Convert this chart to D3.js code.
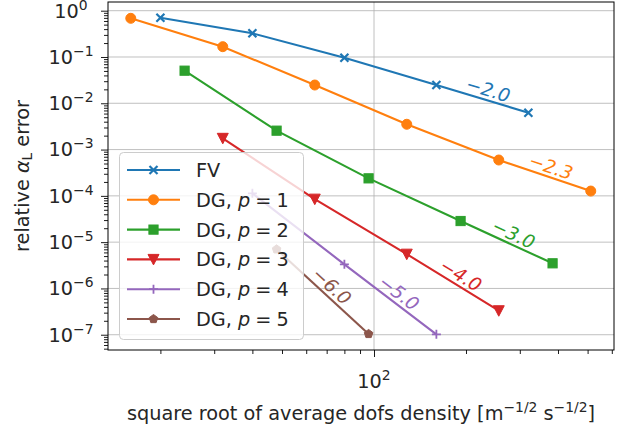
<!DOCTYPE html>
<html><head><meta charset="utf-8">
<script src="https://cdn.jsdelivr.net/npm/d3@7"></script>
<style>
body{margin:0;background:#fff}
svg{display:block}
text{font-family:"DejaVu Sans",sans-serif;fill:#262626}
</style>
</head><body>
<svg id="c" width="628" height="432"></svg>
<script>
// ---- data ----
const seriesLabels = ["FV", "DG, p = 1", "DG, p = 2", "DG, p = 3", "DG, p = 4", "DG, p = 5"];
const fvX = [20, 40, 80, 160, 320];
const fvY = [0.706, 0.325, 0.0966, 0.0248, 0.00626];
const p1X = [16, 32, 64, 128, 256, 512];
const p1Y = [0.685, 0.167, 0.0248, 0.00352, 5.95e-4, 1.27e-4];
const p2X = [24, 48, 96, 192, 384];
const p2Y = [0.0506, 2.56e-3, 2.39e-4, 2.86e-5, 3.49e-6];
const p3X = [32, 64, 128, 256];
const p3Y = [1.75e-3, 8.5e-5, 5.5e-6, 3.3e-7];
const p4X = [40, 80, 160];
const p4Y = [1.135e-4, 3.32e-6, 1.02e-7];
const p5X = [48, 96];
const p5Y = [7.0e-6, 1.04e-7];
const slopeLabels = ["\u22122.0", "\u22122.3", "\u22123.0", "\u22124.0", "\u22125.0", "\u22126.0"];
const yTickExps = [0, -1, -2, -3, -4, -5, -6, -7];
const xTickExps = [2];

const colors = ["#1f77b4", "#ff7f0e", "#2ca02c", "#d62728", "#9467bd", "#8c564b"];
const markers = ["x", "o", "s", "v", "+", "p"];
const allX = [fvX, p1X, p2X, p3X, p4X, p5X];
const allY = [fvY, p1Y, p2Y, p3Y, p4Y, p5Y];
const series = allX.map((xs, i) => ({
  label: seriesLabels[i], color: colors[i], marker: markers[i], slope: slopeLabels[i],
  pts: xs.map((x, j) => [x, allY[i][j]])
}));

// ---- layout ----
const L = 108, R = 614, T = 2, B = 350;
const x = d3.scaleLog().domain([Math.pow(10, 1.12958), Math.pow(10, 2.78534)]).range([L, R]);
const y = d3.scaleLog().domain([Math.pow(10, 0.18795), Math.pow(10, -7.3299)]).range([T, B]);

const svg = d3.select("#c");
const FS = 19.3;

// grid
const g = svg.append("g");
yTickExps.forEach(e => {
  g.append("line").attr("x1", L).attr("x2", R).attr("y1", y(Math.pow(10, e))).attr("y2", y(Math.pow(10, e)))
    .attr("stroke", "#b0b0b0").attr("stroke-width", 0.8);
});
xTickExps.forEach(e => {
  g.append("line").attr("y1", T).attr("y2", B).attr("x1", x(Math.pow(10, e))).attr("x2", x(Math.pow(10, e)))
    .attr("stroke", "#b0b0b0").attr("stroke-width", 0.8);
});

// axes via d3 axis (ticks only)
const yMajor = yTickExps.map(e => Math.pow(10, e));
const yMinor = [];
for (let e = -8; e <= 0; e++) for (let k = 2; k <= 9; k++) { const v = k * Math.pow(10, e); if (v >= y.domain()[1] && v <= y.domain()[0]) yMinor.push(v); }
const xMinor = [];
for (let e = 1; e <= 2; e++) for (let k = 2; k <= 9; k++) { const v = k * Math.pow(10, e); if (v >= x.domain()[0] && v <= x.domain()[1]) xMinor.push(v); }
const xMajor = xTickExps.map(e => Math.pow(10, e));

function styleAxis(sel) { sel.select(".domain").remove(); sel.selectAll("line").attr("stroke", "#000").attr("stroke-width", 0.9); sel.selectAll("text").remove(); }
svg.append("g").attr("transform", `translate(${L},0)`).call(d3.axisLeft(y).tickValues(yMajor).tickSize(7).tickFormat("")).call(styleAxis);
svg.append("g").attr("transform", `translate(${L},0)`).call(d3.axisLeft(y).tickValues(yMinor).tickSize(4).tickFormat("")).call(styleAxis);
svg.append("g").attr("transform", `translate(0,${B})`).call(d3.axisBottom(x).tickValues(xMajor).tickSize(7).tickFormat("")).call(styleAxis);
svg.append("g").attr("transform", `translate(0,${B})`).call(d3.axisBottom(x).tickValues(xMinor).tickSize(4).tickFormat("")).call(styleAxis);

// tick labels
function powLabel(parent, px, py, e, anchor) {
  const t = parent.append("text").attr("x", px).attr("y", py).attr("text-anchor", anchor).style("font-size", FS + "px");
  t.append("tspan").text("10");
  t.append("tspan").attr("dy", -8).style("font-size", (FS * 0.72) + "px").text(e < 0 ? "\u2212" + (-e) : String(e));
  return t;
}
yTickExps.forEach(e => powLabel(svg, 71, y(Math.pow(10, e)) + 6.8, e, "middle"));
xTickExps.forEach(e => powLabel(svg, x(Math.pow(10, e)), 388, e, "middle"));

// axis labels
const yl = svg.append("text").attr("transform", `translate(29,${(T + B) / 2}) rotate(-90)`).attr("text-anchor", "middle").style("font-size", FS + "px");
yl.append("tspan").text("relative ");
yl.append("tspan").style("font-style", "italic").text("\u03b1");
yl.append("tspan").attr("dy", 3).style("font-size", (FS * 0.7) + "px").text("L");
yl.append("tspan").attr("dy", -3).text(" error");

const xl = svg.append("text").attr("x", (L + R) / 2).attr("y", 420).attr("text-anchor", "middle").style("font-size", FS + "px");
xl.append("tspan").text("square root of average dofs density [m");
xl.append("tspan").attr("dy", -8).style("font-size", (FS * 0.72) + "px").text("\u22121/2");
xl.append("tspan").attr("dy", 8).text(" s");
xl.append("tspan").attr("dy", -8).style("font-size", (FS * 0.72) + "px").text("\u22121/2");
xl.append("tspan").attr("dy", 8).text("]");

// markers
function drawMarker(parent, m, cx, cy, color) {
  const gg = parent.append("g").attr("transform", `translate(${cx},${cy})`);
  if (m === "o") gg.append("circle").attr("r", 5).attr("fill", color).attr("stroke", color).attr("stroke-width", 1);
  else if (m === "s") gg.append("rect").attr("x", -4.6).attr("y", -4.6).attr("width", 9.2).attr("height", 9.2).attr("fill", color).attr("stroke", color).attr("stroke-width", 1);
  else if (m === "v") gg.append("path").attr("d", "M0,5.5L-5.5,-5L5.5,-5Z").attr("fill", color).attr("stroke", color).attr("stroke-width", 1);
  else if (m === "x") gg.append("path").attr("d", "M-4,-4L4,4M-4,4L4,-4").attr("stroke", color).attr("stroke-width", 2.2).attr("fill", "none");
  else if (m === "+") gg.append("path").attr("d", "M-4.5,0L4.5,0M0,-4.5L0,4.5").attr("stroke", color).attr("stroke-width", 1.8).attr("fill", "none");
  else if (m === "p") {
    const r = 4.5; const pts = d3.range(5).map(k => { const a = -Math.PI / 2 + k * 2 * Math.PI / 5; return [r * Math.cos(a), r * Math.sin(a)]; });
    gg.append("path").attr("d", "M" + pts.join("L") + "Z").attr("fill", color).attr("stroke", color).attr("stroke-width", 1);
  }
}

// series
const line = d3.line().x(d => x(d[0])).y(d => y(d[1]));
series.forEach(s => {
  svg.append("path").attr("d", line(s.pts)).attr("fill", "none").attr("stroke", s.color).attr("stroke-width", 2.1);
  s.pts.forEach(p => drawMarker(svg, s.marker, x(p[0]), y(p[1]), s.color));
});

// slope labels on last segment
series.forEach(s => {
  const n = s.pts.length;
  const a = [x(s.pts[n - 2][0]), y(s.pts[n - 2][1])];
  const b = [x(s.pts[n - 1][0]), y(s.pts[n - 1][1])];
  const ang = Math.atan2(b[1] - a[1], b[0] - a[0]);
  const mx = (a[0] + b[0]) / 2, my = (a[1] + b[1]) / 2;
  const off = 10.5, tan = 3;
  const cx = mx + off * Math.sin(ang) + tan * Math.cos(ang);
  const cy = my - off * Math.cos(ang) + tan * Math.sin(ang);
  svg.append("text").attr("transform", `translate(${cx},${cy}) rotate(${ang * 180 / Math.PI})`)
    .attr("text-anchor", "middle").attr("dy", "0.36em").style("font-size", "18.5px").style("font-style", "italic")
    .style("fill", s.color).text(s.slope);
});

// spines
svg.append("rect").attr("x", L).attr("y", T).attr("width", R - L).attr("height", B - T)
  .attr("fill", "none").attr("stroke", "#000").attr("stroke-width", 1);

// legend
const lg = svg.append("g");
lg.append("rect").attr("x", 119.5).attr("y", 152.5).attr("width", 184).attr("height", 187).attr("rx", 4)
  .attr("fill", "#fff").attr("fill-opacity", 0.8).attr("stroke", "#cccccc").attr("stroke-width", 1);
series.forEach((s, i) => {
  const yy = 170 + i * 29.8;
  lg.append("line").attr("x1", 127).attr("x2", 180).attr("y1", yy).attr("y2", yy).attr("stroke", s.color).attr("stroke-width", 2.1);
  drawMarker(lg, s.marker, 153.5, yy, s.color);
  const t = lg.append("text").attr("x", 196).attr("y", yy + 7).style("font-size", FS + "px");
  const m = s.label.match(/^(DG, )(p)( = )(\d)$/);
  if (m) {
    t.append("tspan").text(m[1]);
    t.append("tspan").style("font-style", "italic").text(m[2]);
    t.append("tspan").attr("dx", 5).text("=");
    t.append("tspan").attr("dx", 5).text(m[4]);
  } else t.text(s.label);
});
</script>
</body></html>
